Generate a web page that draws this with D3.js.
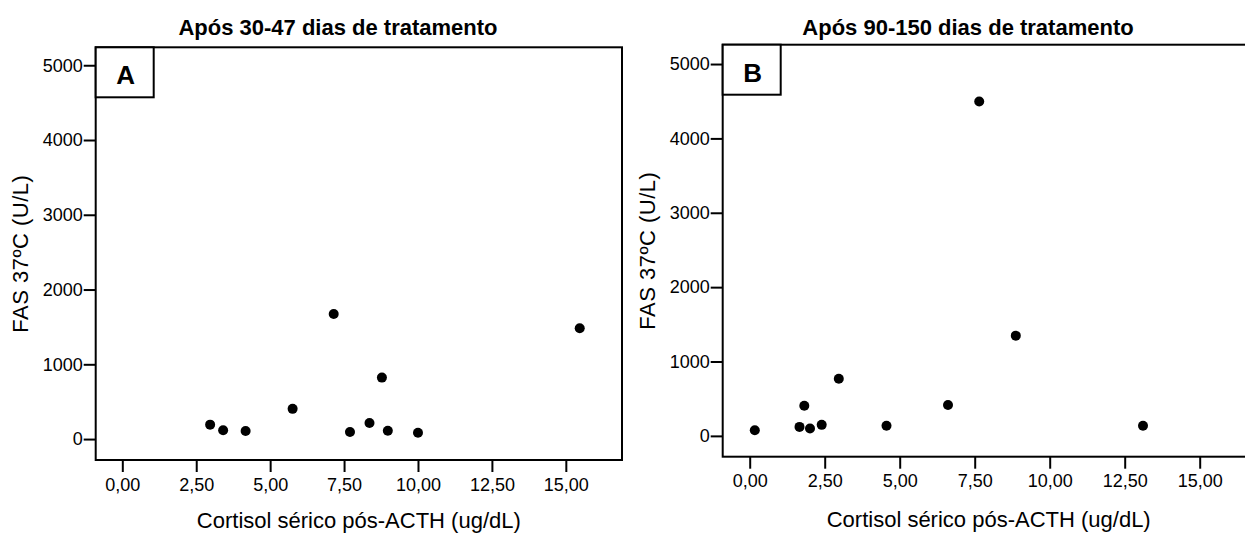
<!DOCTYPE html>
<html><head><meta charset="utf-8">
<script src="https://cdn.jsdelivr.net/npm/d3@7"></script>
<style>
body{margin:0;background:#fff;}
text{font-family:"Liberation Sans",Arial,sans-serif;fill:#000;}
</style></head>
<body>
<svg id="chart" width="1245" height="534"></svg>
<script>
// Data
const titles = ["Após 30-47 dias de tratamento", "Após 90-150 dias de tratamento"];
const panelLetters = ["A", "B"];
const xTicks = [0, 2.5, 5, 7.5, 10, 12.5, 15];
const yTicks = [0, 1000, 2000, 3000, 4000, 5000];
const xLabel = "Cortisol sérico pós-ACTH (ug/dL)";
const yLabel = "FAS 37ºC (U/L)";
const cortisolA = [2.97, 3.41, 4.17, 5.76, 7.15, 7.70, 8.36, 8.78, 8.98, 10.0, 15.47];
const fasA      = [193, 117, 108, 404, 1672, 94, 216, 822, 112, 85, 1483];
const cortisolB = [0.17, 1.66, 1.82, 2.01, 2.40, 2.97, 4.56, 6.61, 7.65, 8.87, 13.11];
const fasB      = [76, 121, 404, 99, 148, 769, 135, 416, 4497, 1348, 135];

const svg = d3.select("#chart");
const fmtX = v => d3.format(".2f")(v).replace(".", ",");

const panels = [
  {left:95.7, top:47.3, width:526.3, height:412.7, yMax:5240, titleX:338, xs:cortisolA, ys:fasA},
  {left:722.7, top:44.7, width:534, height:412, yMax:5260, titleX:968, xs:cortisolB, ys:fasB}
];

panels.forEach((p, i) => {
  const x = d3.scaleLinear().domain([-0.9, 16.9]).range([p.left, p.left + p.width]);
  const y = d3.scaleLinear().domain([-280, p.yMax]).range([p.top + p.height, p.top]);
  const g = svg.append("g");

  // title
  g.append("text").attr("x", p.titleX).attr("y", 35).attr("text-anchor", "middle")
    .style("font-size", "22px").style("font-weight", "bold").text(titles[i]);

  // y axis
  const ya = g.append("g").attr("transform", `translate(${p.left},0)`)
    .call(d3.axisLeft(y).tickValues(yTicks).tickFormat(d3.format("d")).tickSize(12).tickSizeOuter(0).tickPadding(1));
  ya.select(".domain").remove();
  ya.selectAll("line").attr("stroke", "#000").attr("stroke-width", 2);
  ya.selectAll("text").style("font-size", "18px").style("font-family", "Liberation Sans, Arial, sans-serif");

  // x axis
  const xa = g.append("g").attr("transform", `translate(0,${p.top + p.height})`)
    .call(d3.axisBottom(x).tickValues(xTicks).tickFormat(fmtX).tickSize(12).tickSizeOuter(0).tickPadding(6));
  xa.select(".domain").remove();
  xa.selectAll("line").attr("stroke", "#000").attr("stroke-width", 2);
  xa.selectAll("text").style("font-size", "18px").style("font-family", "Liberation Sans, Arial, sans-serif");

  // frame
  g.append("rect").attr("x", p.left).attr("y", p.top).attr("width", p.width).attr("height", p.height)
    .attr("fill", "none").attr("stroke", "#000").attr("stroke-width", 2);

  // letter box
  g.append("rect").attr("x", p.left).attr("y", p.top).attr("width", 58).attr("height", 50)
    .attr("fill", "#fff").attr("stroke", "#000").attr("stroke-width", 2);
  g.append("text").attr("x", p.left + 30).attr("y", p.top + 37).attr("text-anchor", "middle")
    .style("font-size", "26px").style("font-weight", "bold").text(panelLetters[i]);

  // axis labels
  g.append("text").attr("x", p.left + p.width / 2 - (i === 1 ? 1 : 0)).attr("y", Math.min(p.top + p.height + 70, 528))
    .attr("text-anchor", "middle").style("font-size", "22px").text(xLabel);
  g.append("text").attr("transform", `translate(${p.left - 68},${p.top + p.height / 2}) rotate(-90)`)
    .attr("text-anchor", "middle").style("font-size", "22px").style("letter-spacing", "0.5px").text(yLabel);

  // points
  g.selectAll("circle").data(p.xs.map((v, k) => [v, p.ys[k]])).enter().append("circle")
    .attr("cx", d => x(d[0])).attr("cy", d => y(d[1])).attr("r", 5).attr("fill", "#000");
});
</script>
</body></html>
